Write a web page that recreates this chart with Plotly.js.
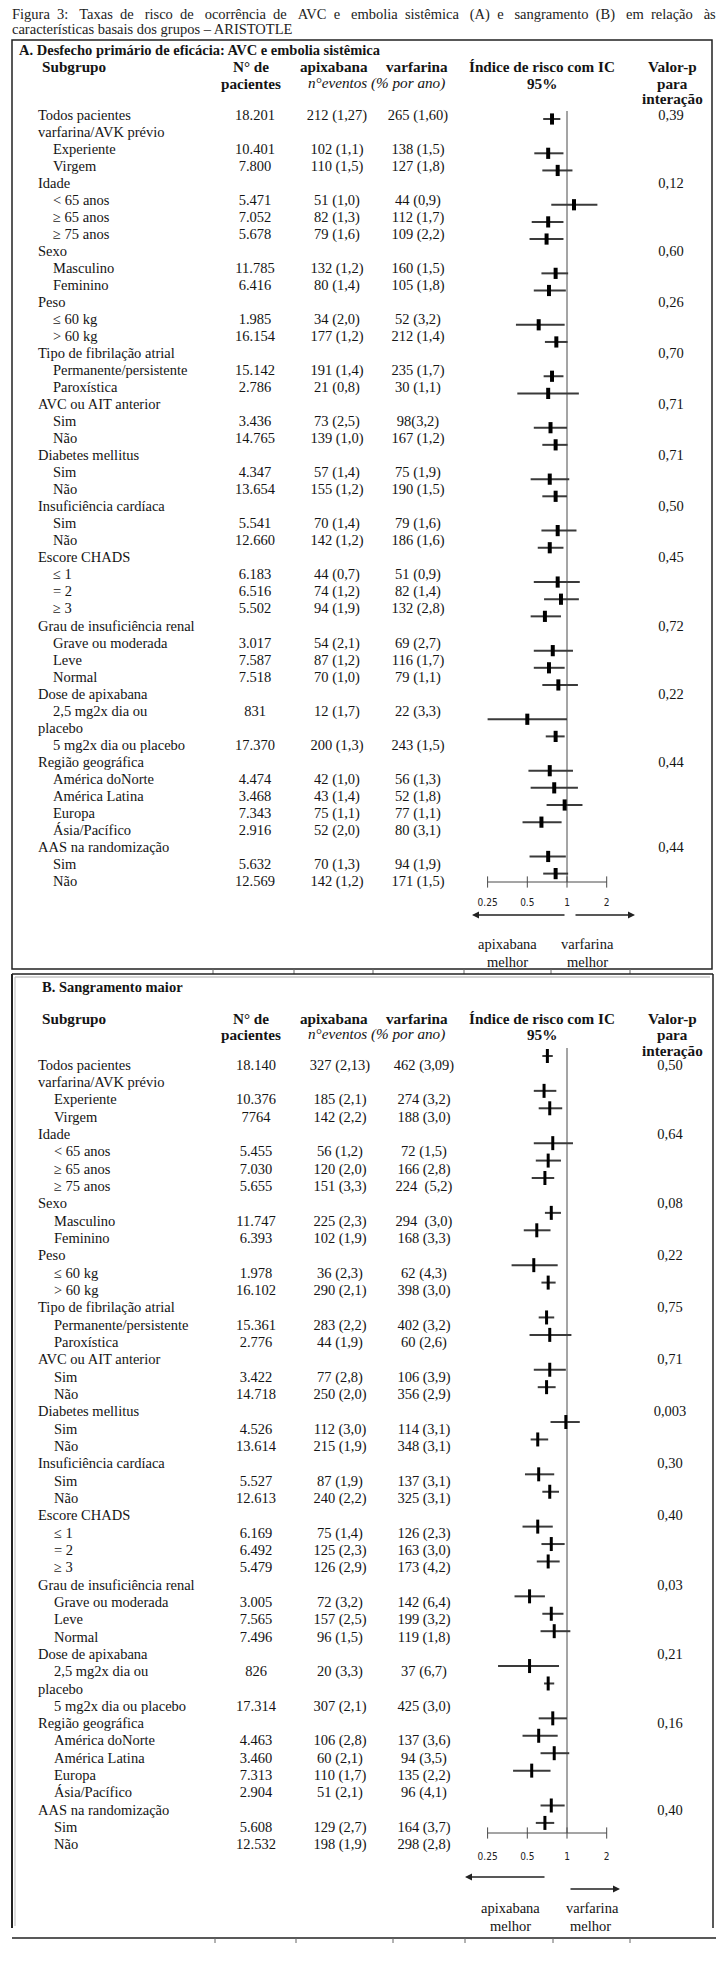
<!DOCTYPE html>
<html><head><meta charset="utf-8">
<script src="https://cdn.plot.ly/plotly-3.0.1.min.js"></script>
<style>html,body{margin:0;padding:0;background:#fff;}#chart{width:725px;height:1965px;}</style>
</head><body><div id="chart"></div>
<script>
// ---------------- DATA ----------------
const subgroups = ["Todos pacientes","varfarina/AVK prévio","Experiente","Virgem","Idade","&lt; 65 anos","≥ 65 anos","≥ 75 anos",
 "Sexo","Masculino","Feminino","Peso","≤ 60 kg","&gt; 60 kg","Tipo de fibrilação atrial","Permanente/persistente","Paroxística",
 "AVC ou AIT anterior","Sim","Não","Diabetes mellitus","Sim","Não","Insuficiência cardíaca","Sim","Não",
 "Escore CHADS","≤ 1","= 2","≥ 3","Grau de insuficiência renal","Grave ou moderada","Leve","Normal",
 "Dose de apixabana","2,5 mg2x dia ou","placebo","5 mg2x dia ou placebo","Região geográfica",
 "América doNorte","América Latina","Europa","Ásia/Pacífico","AAS na randomização","Sim","Não"];
const subgroupLevels = [0,0,1,1,0,1,1,1,0,1,1,0,1,1,0,1,1,0,1,1,0,1,1,0,1,1,0,1,1,1,0,1,1,1,0,1,0,1,0,1,1,1,1,0,1,1];
const dataRows = [0,2,3,5,6,7,9,10,12,13,15,16,18,19,21,22,24,25,27,28,29,31,32,33,35,37,39,40,41,42,44,45];
const pRows = [0,4,8,11,14,17,20,23,26,30,34,38,43];

// Panel A: AVC e embolia sistêmica
const nPacA = ["18.201","10.401","7.800","5.471","7.052","5.678","11.785","6.416","1.985","16.154","15.142","2.786","3.436","14.765","4.347","13.654","5.541","12.660","6.183","6.516","5.502","3.017","7.587","7.518","831","17.370","4.474","3.468","7.343","2.916","5.632","12.569"];
const apixA = ["212 (1,27)","102 (1,1)","110 (1,5)","51 (1,0)","82 (1,3)","79 (1,6)","132 (1,2)","80 (1,4)","34 (2,0)","177 (1,2)","191 (1,4)","21 (0,8)","73 (2,5)","139 (1,0)","57 (1,4)","155 (1,2)","70 (1,4)","142 (1,2)","44 (0,7)","74 (1,2)","94 (1,9)","54 (2,1)","87 (1,2)","70 (1,0)","12 (1,7)","200 (1,3)","42 (1,0)","43 (1,4)","75 (1,1)","52 (2,0)","70 (1,3)","142 (1,2)"];
const warfA = ["265 (1,60)","138 (1,5)","127 (1,8)","44 (0,9)","112 (1,7)","109 (2,2)","160 (1,5)","105 (1,8)","52 (3,2)","212 (1,4)","235 (1,7)","30 (1,1)","98(3,2)","167 (1,2)","75 (1,9)","190 (1,5)","79 (1,6)","186 (1,6)","51 (0,9)","82 (1,4)","132 (2,8)","69 (2,7)","116 (1,7)","79 (1,1)","22 (3,3)","243 (1,5)","56 (1,3)","52 (1,8)","77 (1,1)","80 (3,1)","94 (1,9)","171 (1,5)"];
const pA = ["0,39","0,12","0,60","0,26","0,70","0,71","0,71","0,50","0,45","0,72","0,22","0,44","0,44"];
const hrA = [0.77,0.72,0.85,1.13,0.72,0.70,0.82,0.73,0.61,0.83,0.77,0.72,0.75,0.82,0.74,0.82,0.85,0.74,0.85,0.90,0.68,0.78,0.73,0.86,0.50,0.82,0.74,0.80,0.96,0.64,0.72,0.82];
const loA = [0.66,0.565,0.65,0.76,0.54,0.52,0.64,0.56,0.41,0.68,0.665,0.42,0.56,0.65,0.53,0.65,0.64,0.60,0.56,0.67,0.53,0.56,0.56,0.65,0.25,0.69,0.51,0.53,0.70,0.46,0.52,0.66];
const hiA = [0.89,0.94,1.10,1.70,0.94,0.94,1.02,0.98,0.96,1.01,0.94,1.23,1.00,1.01,1.04,1.00,1.18,0.94,1.25,1.23,0.90,1.11,0.96,1.21,1.00,0.96,1.11,1.21,1.31,0.91,0.98,1.02];

// Panel B: Sangramento maior
const nPacB = ["18.140","10.376","7764","5.455","7.030","5.655","11.747","6.393","1.978","16.102","15.361","2.776","3.422","14.718","4.526","13.614","5.527","12.613","6.169","6.492","5.479","3.005","7.565","7.496","826","17.314","4.463","3.460","7.313","2.904","5.608","12.532"];
const apixB = ["327 (2,13)","185 (2,1)","142 (2,2)","56 (1,2)","120 (2,0)","151 (3,3)","225 (2,3)","102 (1,9)","36 (2,3)","290 (2,1)","283 (2,2)","44 (1,9)","77 (2,8)","250 (2,0)","112 (3,0)","215 (1,9)","87 (1,9)","240 (2,2)","75 (1,4)","125 (2,3)","126 (2,9)","72 (3,2)","157 (2,5)","96 (1,5)","20 (3,3)","307 (2,1)","106 (2,8)","60 (2,1)","110 (1,7)","51 (2,1)","129 (2,7)","198 (1,9)"];
const warfB = ["462 (3,09)","274 (3,2)","188 (3,0)","72 (1,5)","166 (2,8)","224  (5,2)","294  (3,0)","168 (3,3)","62 (4,3)","398 (3,0)","402 (3,2)","60 (2,6)","106 (3,9)","356 (2,9)","114 (3,1)","348 (3,1)","137 (3,1)","325 (3,1)","126 (2,3)","163 (3,0)","173 (4,2)","142 (6,4)","199 (3,2)","119 (1,8)","37 (6,7)","425 (3,0)","137 (3,6)","94 (3,5)","135 (2,2)","96 (4,1)","164 (3,7)","298 (2,8)"];
const pB = ["0,50","0,64","0,08","0,22","0,75","0,71","0,003","0,30","0,40","0,03","0,21","0,16","0,40"];
const hrB = [0.71,0.67,0.74,0.78,0.72,0.68,0.76,0.59,0.56,0.72,0.70,0.74,0.74,0.70,0.98,0.60,0.61,0.74,0.60,0.76,0.72,0.52,0.76,0.80,0.52,0.72,0.78,0.61,0.80,0.54,0.76,0.68];
const loB = [0.65,0.56,0.61,0.56,0.58,0.54,0.68,0.47,0.38,0.64,0.61,0.52,0.56,0.60,0.75,0.53,0.48,0.65,0.46,0.64,0.59,0.40,0.65,0.63,0.30,0.67,0.61,0.46,0.63,0.39,0.63,0.58];
const hiB = [0.78,0.83,0.92,1.11,0.90,0.80,0.90,0.75,0.85,0.82,0.80,1.08,0.98,0.82,1.25,0.72,0.80,0.87,0.78,0.96,0.88,0.68,0.94,1.06,0.87,0.80,1.00,0.85,1.04,0.75,0.96,0.80];

const tickVals = [0.25, 0.5, 1, 2];
const tickText = ["0.25", "0.5", "1", "2"];

// ---------------- LAYOUT CONSTANTS ----------------
const W = 725, H = 1965;
const SERIF = "Liberation Serif, Times New Roman, serif";
const NARROW = "Liberation Sans Narrow, Arial Narrow, DejaVu Sans Condensed, sans-serif";
const INK = "#141414";
const FS = 14.5, FSH = 15.2;
const pd = px => 1 - px / H;
const X_ONE = 567, PX_PER_DOUBLING = 39.7;
const logAt = px => ((px - X_ONE) / PX_PER_DOUBLING) * Math.log10(2);
const FOREST_L = 430, FOREST_R = 690;

const panels = [
  {key:'A', nPac:nPacA, apix:apixA, warf:warfA, p:pA, hr:hrA, lo:loA, hi:hiA,
   rowTop:116, rowH:17.03, slotTop:119, slotH:17.15, axisY:882, lineTop:111, domBottom:892, domTop:100,
   xN:255, xApix:337, xWarf:418, xP:671, xLab0:38, xLab1:53,
   markerSize:8, markerW:4, xa:'x2', ya:'y2'},
  {key:'B', nPac:nPacB, apix:apixB, warf:warfB, p:pB, hr:hrB, lo:loB, hi:hiB,
   rowTop:1066, rowH:17.33, slotTop:1056, slotH:17.43, axisY:1833, lineTop:1048, domBottom:1846, domTop:1040,
   xN:256, xApix:340, xWarf:424, xP:670, xLab0:38, xLab1:54,
   markerSize:10, markerW:3, xa:'x3', ya:'y3'}
];

const traces = [];
function textTrace(xs, ys, texts, pos, font) {
  traces.push({type:'scatter', mode:'text', x:xs, y:ys, text:texts, textposition:pos,
    textfont:Object.assign({family:SERIF, size:FS, color:INK}, font||{}),
    hoverinfo:'skip', showlegend:false, cliponaxis:false, xaxis:'x', yaxis:'y'});
}

panels.forEach(P => {
  const rowY = i => P.rowTop + i * P.rowH;
  textTrace(subgroups.map((s, i) => subgroupLevels[i] ? P.xLab1 : P.xLab0),
            subgroups.map((s, i) => rowY(i)), subgroups, 'middle right');
  textTrace(dataRows.map(() => P.xN), dataRows.map(rowY), P.nPac, 'middle center');
  textTrace(dataRows.map(() => P.xApix), dataRows.map(rowY), P.apix, 'middle center');
  textTrace(dataRows.map(() => P.xWarf), dataRows.map(rowY), P.warf, 'middle center');
  textTrace(pRows.map(() => P.xP), pRows.map(rowY), P.p, 'middle center');

  // forest plot
  const slot = r => (r <= 35 ? r : r - 1);
  const fy = dataRows.map(r => P.slotTop + slot(r) * P.slotH);
  const lineStyle = {color:'#4a4a4a', width:1};
  traces.push({type:'scatter', mode:'lines', x:[1,1], y:[P.lineTop, P.axisY], line:lineStyle,
    hoverinfo:'skip', showlegend:false, xaxis:P.xa, yaxis:P.ya});
  traces.push({type:'scatter', mode:'lines', x:[tickVals[0], tickVals[tickVals.length-1]], y:[P.axisY, P.axisY],
    line:lineStyle, hoverinfo:'skip', showlegend:false, xaxis:P.xa, yaxis:P.ya});
  traces.push({type:'scatter', mode:'markers', x:tickVals, y:tickVals.map(() => P.axisY),
    marker:{symbol:'line-ns', size:8, line:{width:1, color:'#4a4a4a'}},
    hoverinfo:'skip', showlegend:false, xaxis:P.xa, yaxis:P.ya});
  traces.push({type:'scatter', mode:'markers', x:P.hr, y:fy,
    error_x:{type:'data', symmetric:false, array:P.hi.map((h, i) => h - P.hr[i]),
             arrayminus:P.hr.map((h, i) => h - P.lo[i]), width:0, thickness:2, color:'#3a3a3a'},
    marker:{symbol:'line-ns', size:P.markerSize, color:'#000', line:{width:P.markerW, color:'#000'}},
    cliponaxis:false, hoverinfo:'skip', showlegend:false, xaxis:P.xa, yaxis:P.ya});
});

// ---------------- ANNOTATIONS ----------------
const annotations = [];
function ann(text, x, y, opts) {
  annotations.push(Object.assign({text:text, x:x, y:y, xref:'x', yref:'y', showarrow:false,
    xanchor:'center', yanchor:'middle', font:{family:SERIF, size:FS, color:INK}}, opts || {}));
}
const hfont = {font:{family:SERIF, size:FSH, color:INK}};
const titleWords = ["Figura","3:","Taxas","de","risco","de","ocorrência","de","AVC","e","embolia","sistêmica","(A)","e","sangramento","(B)","em","relação","às"];
const titleLine1 = titleWords.map((w, i) => i === 0 ? w : ((i % 2) ? " \u00a0" : " \u00a0\u00a0") + w).join("");
ann(titleLine1, 10, 14, {xanchor:'left', font:{family:SERIF, size:14.5, color:'#222'}});
ann("características basais dos grupos – ARISTOTLE", 10, 29, {xanchor:'left', font:{family:SERIF, size:14.5, color:'#222'}});

function headers(P, yTitle, y1, y2, y3, title, xTitle) {
  ann("<b>" + title + "</b>", xTitle, yTitle, {xanchor:'left'});
  ann("<b>Subgrupo</b>", P.xLab0 + 2, y1, Object.assign({xanchor:'left'}, hfont));
  ann("<b>N° de</b>", 251, y1, hfont);
  ann("<b>pacientes</b>", 251, y2, hfont);
  ann("<b>apixabana</b>", 334, y1, hfont);
  ann("<b>varfarina</b>", 417, y1, hfont);
  ann("<i>n°eventos (% por ano)</i>", 376, y2, hfont);
  ann("<b>Índice de risco com IC</b>", 542, y1, hfont);
  ann("<b>95%</b>", 542, y2, hfont);
  ann("<b>Valor-p</b>", 672, y1, hfont);
  ann("<b>para</b>", 672, y2, hfont);
  ann("<b>interação</b>", 672, y3, hfont);
}
headers(panels[0], 50, 66, 83, 98, "A. Desfecho primário de eficácia: AVC e embolia sistêmica", 17);
headers(panels[1], 987, 1018, 1034, 1050, "B. Sangramento maior", 40);

function arrow(x0, x1, y) {
  annotations.push({x:x1, y:y, ax:x0, ay:y, xref:'x', yref:'y', axref:'x', ayref:'y', text:'',
    showarrow:true, arrowhead:2, arrowsize:1, arrowwidth:1.4, arrowcolor:'#222'});
}
arrow(566, 472, 915); arrow(574, 635, 915);
arrow(546, 465, 1877); arrow(569, 620, 1889);
ann("apixabana", 507, 944); ann("melhor", 507, 962);
ann("varfarina", 587, 944); ann("melhor", 587, 962);
ann("apixabana", 510, 1908); ann("melhor", 510, 1926);
ann("varfarina", 592, 1908); ann("melhor", 590, 1926);

// ---------------- SHAPES (frames) ----------------
const shapes = [];
const ln = (x0, y0, x1, y1, c, w) => shapes.push({type:'line', xref:'x', yref:'y', x0, y0, x1, y1, line:{color:c, width:w}});
shapes.push({type:'rect', xref:'x', yref:'y', x0:12, y0:40, x1:712, y1:969, line:{color:'#222', width:1.5}});
[213, 294, 373, 464, 551, 630].forEach(x => ln(x, 969, x, 974, '#666', 1));
ln(12, 974, 713, 974, '#222', 1.5); ln(12, 974, 12, 1928, '#222', 2); ln(713, 974, 713, 1928, '#222', 1.5);
ln(15, 977, 710, 977, '#aaa', 1); ln(15, 977, 15, 1926, '#bbb', 1);
ln(12, 1938, 716, 1938, '#222', 1.5);
[215, 296, 393, 465, 553, 630].forEach(x => ln(x, 1938, x, 1943, '#666', 1));

// ---------------- AXES ----------------
const hidden = {visible:false, fixedrange:true, showgrid:false, zeroline:false};
function forestX(anchor) {
  return {type:'log', domain:[FOREST_L / W, FOREST_R / W], range:[logAt(FOREST_L), logAt(FOREST_R)],
    anchor:anchor, tickvals:tickVals, ticktext:tickText, ticks:'', showline:false, showgrid:false,
    zeroline:false, fixedrange:true, tickfont:{family:NARROW, size:10, color:'#222'}, ticklabelstandoff:3};
}
const layout = {
  width:W, height:H, margin:{l:0, r:0, t:0, b:0}, paper_bgcolor:'#fff', plot_bgcolor:'rgba(0,0,0,0)',
  showlegend:false,
  xaxis:Object.assign({range:[0, W], domain:[0, 1]}, hidden),
  yaxis:Object.assign({range:[H, 0], domain:[0, 1]}, hidden),
  xaxis2:forestX('y2'),
  yaxis2:Object.assign({range:[panels[0].domBottom, panels[0].domTop], domain:[pd(panels[0].domBottom), pd(panels[0].domTop)]}, hidden),
  xaxis3:forestX('y3'),
  yaxis3:Object.assign({range:[panels[1].domBottom, panels[1].domTop], domain:[pd(panels[1].domBottom), pd(panels[1].domTop)]}, hidden),
  annotations:annotations, shapes:shapes
};
Plotly.newPlot('chart', traces, layout, {staticPlot:true, displayModeBar:false});
</script></body></html>
